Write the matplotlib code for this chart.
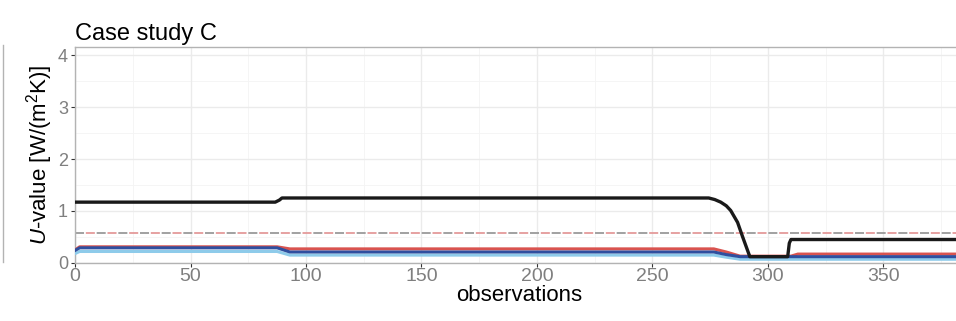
import matplotlib
matplotlib.use("Agg")
import matplotlib.pyplot as plt
from matplotlib.lines import Line2D
import numpy as np

plt.rcParams['font.family'] = ['Liberation Sans', 'DejaVu Sans']
plt.rcParams['mathtext.fontset'] = 'custom'
plt.rcParams['mathtext.rm'] = 'Liberation Sans'
plt.rcParams['mathtext.it'] = 'Liberation Sans:italic'

black_obs = [0, 86.7, 88.5, 89.6, 274.4, 277, 279.6, 282, 283.9, 286.9, 289.1, 292.2, 308.6, 309.3, 310, 385]
black_u = [1.17, 1.17, 1.21, 1.25, 1.25, 1.22, 1.17, 1.10, 1.01, 0.78, 0.50, 0.12, 0.12, 0.38, 0.45, 0.45]

red_obs = [0, 2, 87.5, 93, 276.6, 282, 288, 310, 313, 385]
red_u = [0.25, 0.31, 0.31, 0.27, 0.27, 0.21, 0.13, 0.13, 0.17, 0.17]

blue_obs = [0, 2, 87.5, 93, 276.6, 282, 288, 385]
blue_u = [0.24, 0.29, 0.29, 0.21, 0.21, 0.16, 0.12, 0.12]

lightblue_obs = [0, 2, 87.5, 93, 276.6, 282, 288, 385]
lightblue_u = [0.18, 0.22, 0.22, 0.15, 0.15, 0.11, 0.07, 0.07]

threshold_u = 0.58

xticks = [0, 50, 100, 150, 200, 250, 300, 350]
yticks = [0, 1, 2, 3, 4]

fig = plt.figure(figsize=(9.56, 3.21), dpi=100)
ax = fig.add_axes([0.0785, 0.181, 0.93, 0.673])

# grid like theme_bw
for v in np.arange(25, 400, 50):
    ax.axvline(v, color='#f4f4f4', lw=0.6, zorder=0)
for v in np.arange(0.5, 4.5, 1):
    ax.axhline(v, color='#f4f4f4', lw=0.6, zorder=0)
for v in xticks + [400]:
    ax.axvline(v, color='#ebebeb', lw=1.0, zorder=0)
for v in yticks:
    ax.axhline(v, color='#ebebeb', lw=1.0, zorder=0)

# threshold: alternating grey / pink dashes
ax.axhline(threshold_u, color='#9a9a9a', lw=1.3, linestyle=(0, (5, 7)), zorder=2)
ax.axhline(threshold_u, color='#e49a9a', lw=1.3, linestyle=(6, (5, 7)), zorder=2)

ax.plot(lightblue_obs, lightblue_u, color='#8ecbea', lw=2.2, zorder=3)
ax.plot(red_obs, red_u, color='#d9534f', lw=2.2, zorder=4)
ax.plot(blue_obs, blue_u, color='#2f4f9f', lw=2.2, zorder=5)
ax.plot(black_obs, black_u, color='#1a1a1a', lw=2.4, zorder=6)

ax.set_xlim(0, 385)
ax.set_ylim(0, 4.16)
ax.set_xticks(xticks)
ax.set_yticks(yticks)
ax.tick_params(axis='x', colors='#333333', labelcolor='#7f7f7f', labelsize=14, length=3, width=0.8, pad=1)
ax.tick_params(axis='y', colors='#333333', labelcolor='#7f7f7f', labelsize=13, length=3, width=0.8, pad=2)
for s in ax.spines.values():
    s.set_color('#b3b3b3')
    s.set_linewidth(1.0)

ax.set_xlabel('observations', fontsize=16, labelpad=0)
ax.set_ylabel(r'$\mathit{U}$-value [W/(m$^2$K)]', fontsize=16, labelpad=2)
ax.set_title('Case study C', fontsize=17, loc='left', pad=5)

# edge of the neighbouring panel on the left
fig.add_artist(Line2D([3 / 956, 3 / 956], [1 - 45 / 321, 1 - 262 / 321], color='#b3b3b3', lw=1.0))

fig.savefig('out.png', dpi=100)
